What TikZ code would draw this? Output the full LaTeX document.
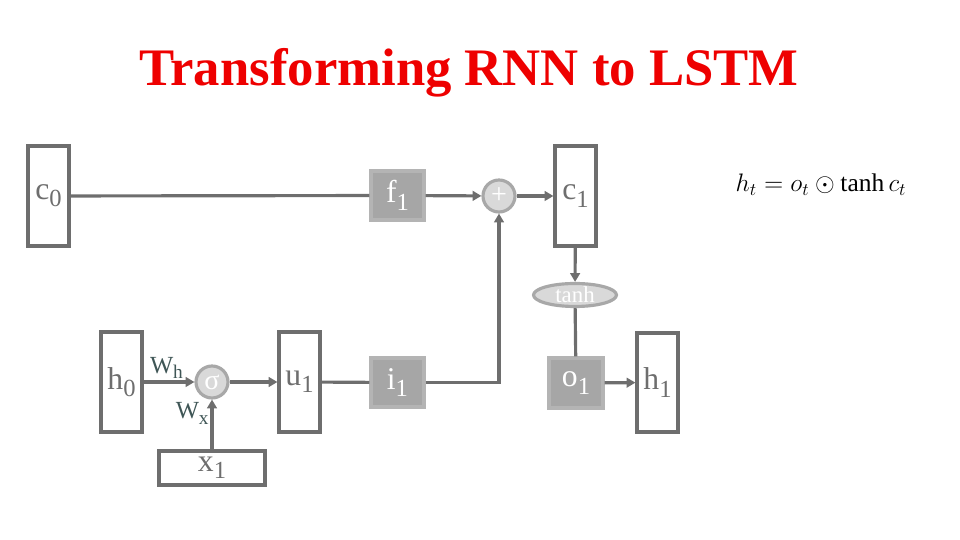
\documentclass[tikz,border=0pt]{standalone}
\usepackage{fontspec}
\setmainfont{Liberation Serif}
\usepackage{xcolor}
\usepackage{tikz}
\usetikzlibrary{arrows.meta,shapes.geometric}
\definecolor{LSLine}{HTML}{6E6E6E}
\definecolor{LSGate}{HTML}{A6A6A6}
\definecolor{LSGateEdge}{HTML}{B4B4B4}
\definecolor{LSOp}{HTML}{D9D9D9}
\definecolor{LSOpEdge}{HTML}{A8A8A8}
\definecolor{LSRed}{HTML}{EE0000}
\definecolor{LSSlate}{HTML}{3F5656}
\newcommand{\lssub}[1]{\raisebox{-0.5ex}{\fontsize{14}{14}\selectfont#1}}
\newcommand{\wsub}[1]{\raisebox{-0.5ex}{\fontsize{11}{11}\selectfont#1}}
\tikzset{
  vecbox/.style={draw=LSLine,line width=1.8pt,fill=white,text=LSLine,minimum width=0.82cm,minimum height=2cm,inner sep=0pt,font=\fontsize{18}{20}\selectfont},
  gatebox/.style={draw=LSGateEdge,line width=1.8pt,fill=LSGate,text=white,minimum width=1.06cm,minimum height=0.98cm,inner sep=0pt,font=\fontsize{18}{20}\selectfont},
  opcirc/.style={circle,draw=LSOpEdge,line width=1.8pt,fill=LSOp,text=white,minimum size=0.64cm,inner sep=0pt,font=\fontsize{16}{18}\selectfont},
  flow/.style={draw=LSLine,line width=1.8pt},
  flowarr/.style={flow,-{Triangle[length=5pt,width=5.5pt]}},
  wlabel/.style={text=LSSlate,font=\fontsize{14}{16}\selectfont,inner sep=1pt}
}
\begin{document}
\begin{tikzpicture}[x=1cm,y=1cm]
\path[use as bounding box] (0,0) rectangle (19.20,10.80);
\node[text=LSRed,font=\fontsize{30}{34}\selectfont\bfseries] (title) at (9.38,9.34) {Transforming RNN to LSTM};
% cell line
\node[vecbox] (c0) at (0.97,6.88) {c\lssub{0}};
\node[gatebox] (f1) at (7.95,6.89) {f\lssub{1}};
\node[opcirc] (plus) at (9.98,6.88) {+};
\node[vecbox] (c1) at (11.51,6.88) {c\lssub{1}};
\node[ellipse,draw=LSOpEdge,line width=1.8pt,fill=LSOp,text=white,minimum width=1.66cm,minimum height=0.46cm,inner sep=0pt,font=\fontsize{13}{14}\selectfont] (tanh) at (11.50,4.90) {tanh};
% hidden line
\node[vecbox] (h0) at (2.43,3.16) {h\lssub{0}};
\node[opcirc] (sig) at (4.24,3.16) {σ};
\node[vecbox] (u1) at (5.99,3.16) {u\lssub{1}};
\node[gatebox] (i1) at (7.95,3.15) {i\lssub{1}};
\node[gatebox,minimum width=1.08cm,minimum height=1.0cm] (o1) at (11.52,3.14) {o\lssub{1}};
\node[vecbox,minimum height=1.98cm] (h1) at (13.15,3.15) {h\lssub{1}};
\node[vecbox,minimum width=2.12cm,minimum height=0.68cm] (x1) at (4.24,1.44) {x\lssub{1}};
\node[font=\fontsize{14.5}{16}\selectfont] (eq) at (16.42,7.10) {$h_t = o_t \odot \tanh c_t$};
% connectors
\draw[flow] (c0) -- (f1);
\draw[flowarr] (f1) -- (plus);
\draw[flowarr] (plus) -- (c1);
\draw[flowarr] (c1) -- (tanh);
\draw[flow] (tanh) -- (o1);
\draw[flowarr] (o1) -- (h1);
\draw[flowarr] (h0) -- node[wlabel,above,pos=0.45] {W\wsub{h}} (sig);
\draw[flowarr] (x1) -- node[wlabel,left,pos=0.72] {W\wsub{x}} (sig);
\draw[flowarr] (sig) -- (u1);
\draw[flow] (u1) -- (i1);
\draw[flowarr] (i1) -| (plus);
\end{tikzpicture}
\end{document}
